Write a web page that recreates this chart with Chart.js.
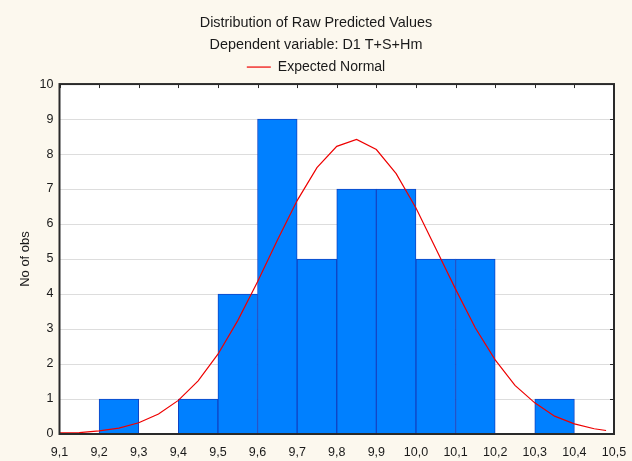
<!DOCTYPE html>
<html>
<head>
<meta charset="utf-8">
<title>Distribution of Raw Predicted Values</title>
<script src="https://cdn.jsdelivr.net/npm/chart.js@4.4.1/dist/chart.umd.min.js"></script>
<style>
  html, body { margin: 0; padding: 0; background: #fcf8ee; }
  #wrap { width: 632px; height: 461px; }
</style>
</head>
<body>
<div id="wrap"><canvas id="histChart"></canvas></div>
<script>
// histogram bins (width 0.1), given by their centres
const binCenters = [9.25, 9.35, 9.45, 9.55, 9.65, 9.75, 9.85, 9.95, 10.05, 10.15, 10.25, 10.35];
const binCounts  = [1, 0, 1, 4, 9, 5, 7, 7, 5, 5, 0, 1];

// expected normal curve
const curveX = [9.10, 9.15, 9.20, 9.25, 9.30, 9.35, 9.40, 9.45, 9.50, 9.55, 9.60, 9.65, 9.70, 9.75,
                9.80, 9.85, 9.90, 9.95, 10.00, 10.05, 10.10, 10.15, 10.20, 10.25, 10.30, 10.35, 10.40, 10.45, 10.48];
const curveY = [0.03, 0.04, 0.09, 0.17, 0.32, 0.57, 0.96, 1.52, 2.28, 3.24, 4.35, 5.54, 6.67, 7.61,
                8.22, 8.42, 8.13, 7.44, 6.46, 5.30, 4.14, 3.03, 2.12, 1.39, 0.89, 0.51, 0.29, 0.15, 0.10];

// axis ticks
const xTickValues = [9.1, 9.2, 9.3, 9.4, 9.5, 9.6, 9.7, 9.8, 9.9, 10.0, 10.1, 10.2, 10.3, 10.4, 10.5];
const yTickValues = [0, 1, 2, 3, 4, 5, 6, 7, 8, 9, 10];

const FAMILY = 'Arial, "Liberation Sans", sans-serif';
const TEXT_COLOR = '#1a1a1a';

// white plot area, dark frame, inward ticks on the top and right edges
const framePlugin = {
  id: 'frame',
  beforeDraw(chart) {
    const { ctx, chartArea: a } = chart;
    ctx.save();
    ctx.fillStyle = '#ffffff';
    ctx.fillRect(a.left, a.top, a.right - a.left, a.bottom - a.top);
    ctx.restore();
  },
  afterDatasetsDraw(chart) {
    const { ctx, chartArea: a, scales } = chart;
    ctx.save();
    ctx.strokeStyle = '#2a2a2a';
    ctx.lineWidth = 1;
    ctx.beginPath();
    xTickValues.forEach(v => {
      const px = Math.round(scales.x.getPixelForValue(v)) + 0.5;
      ctx.moveTo(px, a.top);
      ctx.lineTo(px, a.top + 4);
    });
    yTickValues.forEach(v => {
      const py = Math.round(scales.y.getPixelForValue(v)) + 0.5;
      ctx.moveTo(a.right, py);
      ctx.lineTo(a.right - 4, py);
    });
    ctx.stroke();
    ctx.lineWidth = 2;
    ctx.strokeRect(a.left, a.top, a.right - a.left, a.bottom - a.top);
    ctx.restore();
  }
};

const ctx = document.getElementById('histChart');

new Chart(ctx, {
  type: 'bar',
  data: {
    datasets: [
      {
        type: 'bar',
        label: 'No of obs',
        data: binCenters.map((x, i) => ({ x: x, y: binCounts[i] })),
        backgroundColor: '#0080ff',
        borderColor: '#1044c4',
        borderWidth: 1,
        barPercentage: 1,
        categoryPercentage: 1,
        order: 2
      },
      {
        type: 'line',
        label: 'Expected Normal',
        data: curveX.map((x, i) => ({ x: x, y: curveY[i] })),
        borderColor: '#ee0000',
        backgroundColor: '#ee0000',
        borderWidth: 1.2,
        pointRadius: 0,
        pointStyle: 'line',
        tension: 0,
        fill: false,
        order: 1
      }
    ]
  },
  options: {
    responsive: true,
    maintainAspectRatio: false,
    animation: false,
    layout: { padding: { top: 0, right: 18, bottom: 0, left: 18 } },
    plugins: {
      title: {
        display: true,
        text: ['Distribution of Raw Predicted Values', 'Dependent variable: D1 T+S+Hm'],
        color: TEXT_COLOR,
        font: { family: FAMILY, size: 14.4, weight: 'normal', lineHeight: 1.53 },
        padding: { top: 12, bottom: -3 }
      },
      legend: {
        display: true,
        labels: {
          filter: item => item.text === 'Expected Normal',
          usePointStyle: true,
          pointStyleWidth: 24,
          color: TEXT_COLOR,
          font: { family: FAMILY, size: 14 },
          padding: 7
        }
      },
      tooltip: { enabled: false }
    },
    scales: {
      x: {
        type: 'linear',
        min: 9.1,
        max: 10.5,
        offset: false,
        afterBuildTicks: scale => { scale.ticks = xTickValues.map(v => ({ value: v })); },
        afterFit: scale => { scale.height = 27; },
        ticks: {
          color: TEXT_COLOR,
          font: { family: FAMILY, size: 12.5 },
          padding: 3,
          autoSkip: false,
          maxRotation: 0,
          callback: v => v.toFixed(1).replace('.', ',')
        },
        grid: { display: false },
        border: { display: false }
      },
      y: {
        min: 0,
        max: 10,
        afterBuildTicks: scale => { scale.ticks = yTickValues.map(v => ({ value: v })); },
        title: {
          display: true,
          text: 'No of obs',
          color: TEXT_COLOR,
          font: { family: FAMILY, size: 13 },
          padding: { top: 0, bottom: 0 }
        },
        ticks: { color: TEXT_COLOR, font: { family: FAMILY, size: 12.5 }, padding: 6 },
        grid: { color: '#dddddd', lineWidth: 1, tickLength: 0, drawTicks: false },
        border: { display: false }
      }
    }
  },
  plugins: [framePlugin]
});
</script>
</body>
</html>
